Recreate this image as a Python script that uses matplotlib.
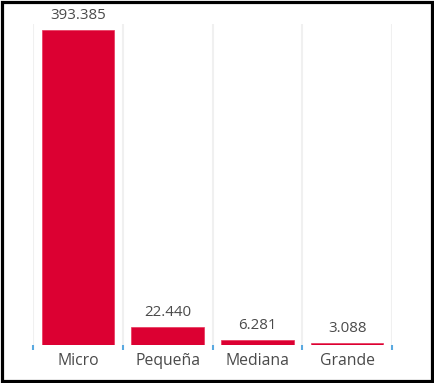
import matplotlib.pyplot as plt
from matplotlib.patches import Rectangle
from matplotlib.ticker import FixedLocator

categories = ['Micro', 'Pequeña', 'Mediana', 'Grande']
values = [393385, 22440, 6281, 3088]
value_labels = ['393.385', '22.440', '6.281', '3.088']

plt.rcParams['font.family'] = ['Open Sans', 'DejaVu Sans']

fig = plt.figure(figsize=(4.34, 3.83), dpi=100)
ax = fig.add_axes([33 / 434, 1 - 345 / 383, (392 - 33) / 434, (345 - 24) / 383])

x = range(len(categories))
bars = ax.bar(x, values, width=0.81, color='#dc0032', edgecolor='#e8345a', linewidth=0.5, zorder=3)

for b, lab in zip(bars, value_labels):
    ax.annotate(lab, (b.get_x() + b.get_width() / 2, b.get_height()),
                xytext=(0, 5), textcoords='offset points',
                ha='center', va='bottom', fontsize=10.8, color='#4a4a4a')

ax.set_xlim(-0.5, len(categories) - 0.5)
ax.set_ylim(0, values[0] * (345 - 24) / 315)

ax.set_xticks(list(x))
ax.set_xticklabels(categories, fontsize=11.3, color='#4a4a4a')
ax.tick_params(axis='x', which='major', length=0, pad=5.5)
ax.xaxis.set_minor_locator(FixedLocator([i - 0.5 for i in range(len(categories) + 1)]))
ax.tick_params(axis='x', which='minor', length=3.5, width=1.5, color='#5aa9e0', direction='out')
ax.set_yticks([])

# vertical separators between categories
for xb in [i - 0.5 for i in range(len(categories) + 1)]:
    ax.axvline(xb, color='#f0f0f0', linewidth=1.5, zorder=0)

for s in ax.spines.values():
    s.set_visible(False)

# black frame around the whole image
fig.patches.append(Rectangle((1.5 / 434, 2.5 / 383), 430.5 / 434, 378.5 / 383,
                             transform=fig.transFigure, fill=False,
                             edgecolor='black', linewidth=2.3))

fig.savefig('out.png', dpi=100, facecolor='white')
